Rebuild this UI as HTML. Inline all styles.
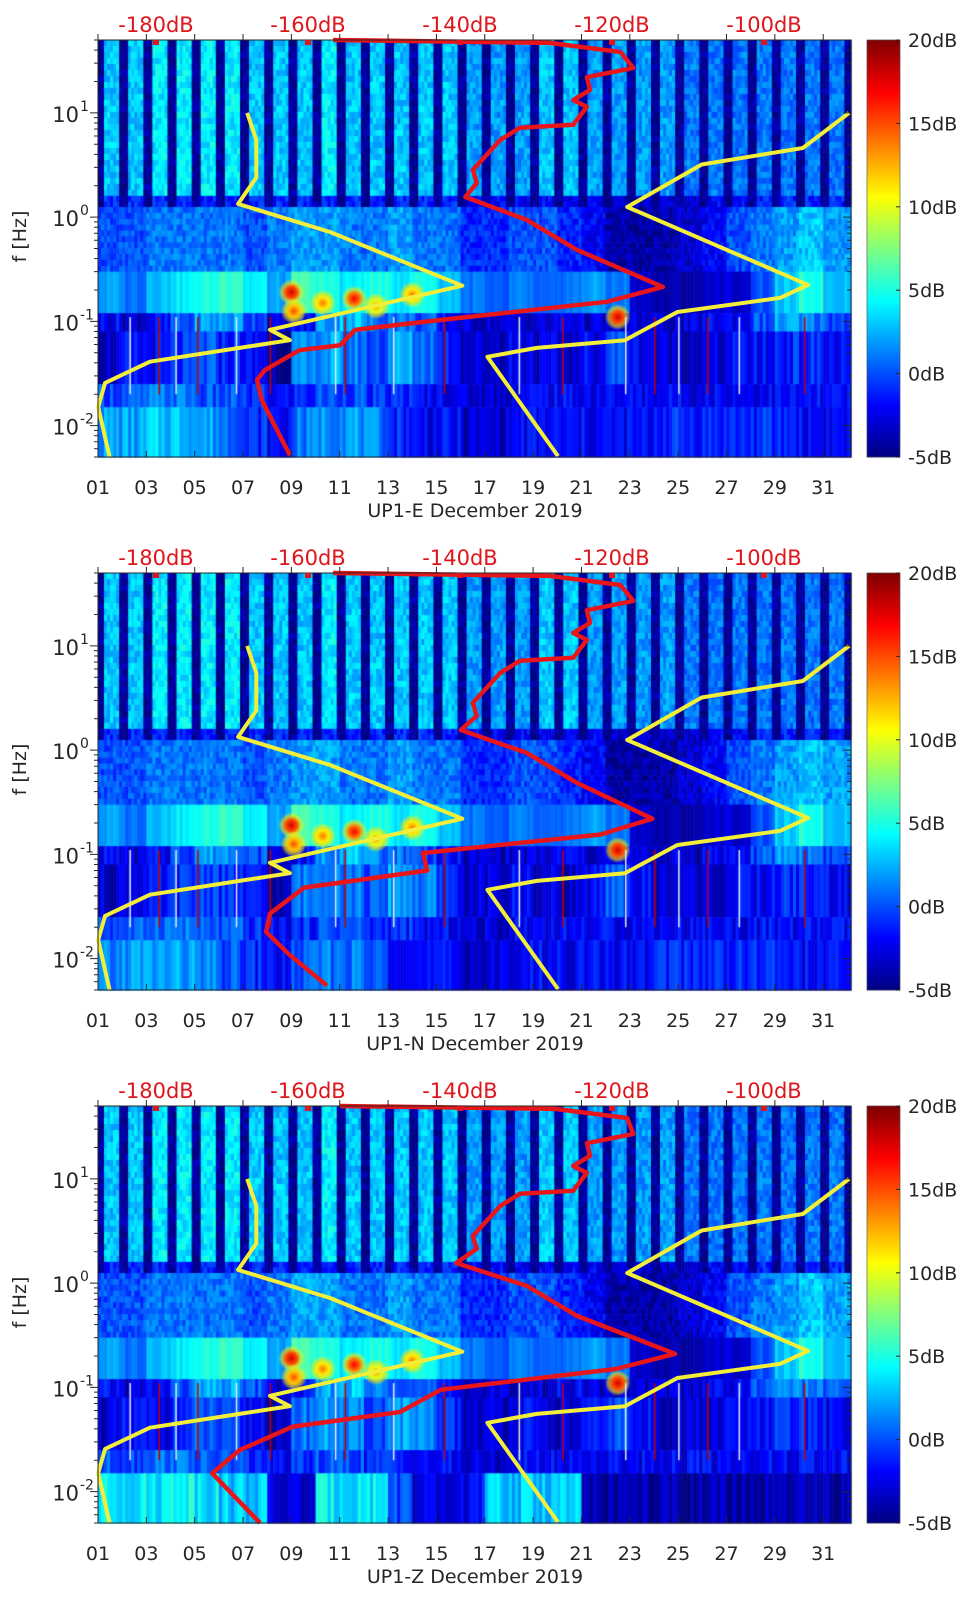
<!DOCTYPE html>
<html><head><meta charset="utf-8">
<style>
html,body{margin:0;padding:0;background:#fff;}
#wrap{position:relative;width:962px;height:1599px;overflow:hidden;}
canvas,svg{position:absolute;left:0;top:0;}
text{font-family:"DejaVu Sans","Liberation Sans",sans-serif;}
</style></head>
<body>
<div id="wrap">
<canvas id="cv" width="962" height="1599"></canvas>
<svg id="sv" width="962" height="1599" xmlns="http://www.w3.org/2000/svg"></svg>
</div>
<script>
// ---- data ----
const channelNames = ["UP1-E", "UP1-N", "UP1-Z"];
const dayTicks = ["01","03","05","07","09","11","13","15","17","19","21","23","25","27","29","31"];
const dbTicks = [-180,-160,-140,-120,-100];
const cbTicks = [20,15,10,5,0,-5];
const bandEdges = [50,1.6,1.25,0.3,0.12,0.08,0.025,0.015,0.005];
const stripeLevel = [3,3,4,4,4,4,3,3,3,4,3,3,3,3,3,2,2,2,3,3,2,2,2,2,1,1,1,1,1,1,1,1];
const darkRowLevel = [-1,-1,-1,-1,-1,-1,-1,-1,-1,-1,-1,-1,-1,-1,-1,-2,-2,-2,-2,-2,-2,-3,-3,-3,-3,-2,-2,-1,-1,-1,-1,-1];
const secLevel = [0,0,1,1,1,1,0,1,2,2,1,1,2,1,1,-1,-1,0,0,-1,-2,-4,-4,-4,-3,-2,0,1,2,3,2,2];
const microLevel = [2,1,3,4,5,6,4,2,6,5,4,5,4,5,3,1,0,1,0,1,2,1,-3,-4,-4,-3,-3,0,3,5,3,3];
const low1Level = [-2,-3,-2,0,2,2,0,-3,-2,2,3,1,1,0,-2,-3,-3,-3,-3,-2,-3,-3,-3,-3,-3,-2,-2,0,2,1,0,0];
const low2Level = [-3,-2,-2,-1,0,-1,-2,-4,1,2,1,0,2,1,-1,-3,-3,-2,-3,-3,-2,0,-2,-3,-3,-3,-2,-2,-1,-1,-2,-2];
const low25Level = [0,0,1,1,0,0,-1,-2,-1,0,0,-1,-1,-2,-2,-3,-3,-2,-2,-2,-2,-2,-2,-2,-2,-2,-2,-2,-2,-2,-2,-2];
const low3E = [2,2,3,3,2,1,-1,-2,1,2,2,1,-1,-2,-2,-3,-3,-2,-2,-2,-2,-2,-2,-1,-1,-1,-1,-1,-1,-2,-2,-2];
const low3N = [1,2,2,2,1,0,-1,-2,0,1,1,0,-1,-2,-2,-3,-3,-2,-2,-2,-2,-2,-2,-1,-1,-1,-1,-1,-1,-2,-2,-2];
const low3Z = [4,4,4,5,4,3,3,-3,-3,4,4,4,0,-3,-3,-2,3,3,3,3,-4,-4,-4,-4,-4,-4,-4,-4,-4,-4,-4,-4];
const hotDays = [9.0,9.1,10.3,11.6,12.5,14.0,22.5];
const hotFreqs = [0.19,0.125,0.15,0.165,0.14,0.18,0.11];
const hotVals = [18,15,14,17,13,14,18];
const spikeDays = [2.3,3.5,4.2,5.1,6.7,8.1,10.8,11.2,13.2,15.3,18.4,20.2,22.8,24.0,25.0,26.2,27.5,30.2];
const nlnmDb = [-168.0,-166.8,-166.8,-169.2,-157.1,-139.7,-165.0,-162.4,-169.0,-180.8,-186.7,-187.6,-186.1];
const nlnmF  = [10,5.5,2.4,1.34,0.72,0.22,0.083,0.066,0.0557,0.041,0.0257,0.0151,0.005];
const nhnmDb = [-88.8,-94.9,-108.2,-118.0,-94.2,-97.9,-111.4,-118.3,-129.9,-136.4,-127.1];
const nhnmF  = [10,4.6,3.2,1.25,0.224,0.168,0.123,0.066,0.0557,0.0457,0.0051];
const redDbE = [-156.7,-128.2,-118.9,-117.2,-123.3,-122.9,-125.1,-123.3,-125.1,-132.1,-134.7,-138.3,-137.8,-139.3,-131.2,-124.6,-113.3,-120.7,-142.6,-153.8,-155.8,-161.1,-165.7,-166.7,-166.1,-162.4];
const redFE  = [50,46.9,38.4,27,22,16.6,13.3,11.4,7.7,7.2,5.5,2.84,2.13,1.56,0.94,0.485,0.214,0.154,0.103,0.083,0.059,0.053,0.034,0.0275,0.0177,0.0052];
const redDbN = [-156.7,-128.2,-118.9,-117.2,-123.3,-122.9,-125.1,-123.3,-125.1,-132.1,-134.7,-138.3,-137.8,-139.9,-131.2,-124.6,-114.7,-121.5,-144.9,-144.3,-160.5,-165.0,-165.5,-162.5,-157.5];
const redFN  = [50,46.9,38.4,27,22,16.6,13.3,11.4,7.7,7.2,5.5,2.84,2.13,1.56,0.94,0.485,0.22,0.155,0.103,0.07,0.048,0.027,0.018,0.011,0.0055];
const redDbZ = [-155.8,-127.5,-118.0,-117.2,-123.3,-122.9,-125.1,-123.3,-125.1,-132.1,-134.7,-138.3,-137.8,-140.5,-131.2,-124.6,-111.7,-119.5,-142.5,-147.9,-162.0,-169.0,-172.6,-166.3];
const redFZ  = [50,46.9,38.4,27,22,16.6,13.3,11.4,7.7,7.2,5.5,2.84,2.13,1.56,0.94,0.485,0.21,0.15,0.095,0.058,0.042,0.025,0.015,0.005];

// ---- layout ----
const L=98, R=851, PH=417, DMIN=1, DMAX=32.15, LOGTOP=Math.log10(50), DEC=104.25;
const panelTops=[40,573,1106];
const low3Sets=[low3E,low3N,low3Z];
const redDbSets=[redDbE,redDbN,redDbZ], redFSets=[redFE,redFN,redFZ];
function xDay(d){return L+(d-DMIN)/(DMAX-DMIN)*(R-L);}
function yF(f,top){return top+(LOGTOP-Math.log10(f))*DEC;}
function xDb(v){return 156+(v+180)*7.6;}
function jet(v){let t=(v+5)/25;t=Math.max(0,Math.min(1,t));
 const c=x=>Math.round(255*Math.max(0,Math.min(1,1.5-Math.abs(x))));
 return [c(4*t-3),c(4*t-2),c(4*t-1)];}
function rgb(a){return "rgb("+a[0]+","+a[1]+","+a[2]+")";}
function tex(i,j){const s=Math.sin(i*12.9898+j*78.233)*43758.5453;return s-Math.floor(s)-0.5;}

const cv=document.getElementById('cv'), ctx=cv.getContext('2d');
const sv=document.getElementById('sv'), NS="http://www.w3.org/2000/svg";
function mk(tag,attrs,parent){const e=document.createElementNS(NS,tag);for(const k in attrs)e.setAttribute(k,attrs[k]);(parent||sv).appendChild(e);return e;}

panelTops.forEach((top,p)=>{
 const bandLevels=[stripeLevel,darkRowLevel,secLevel,microLevel,low1Level,low2Level,low25Level,low3Sets[p]];
 const step=0.125;
 let ci=0;
 for(let d=DMIN; d<DMAX; d+=step, ci++){
  const di=Math.min(31,Math.floor(d)-1);
  const frac=d-Math.floor(d);
  const isDark=(frac<0.2||frac>0.82);
  const x0=xDay(d), x1=xDay(Math.min(DMAX,d+step));
  for(let b=0;b<bandLevels.length;b++){
   const y0=yF(bandEdges[b],top), y1=yF(bandEdges[b+1],top);
   if(b<=2){
    // sub-rows for texture
    const n=Math.max(1,Math.round((y1-y0)/6));
    for(let k=0;k<n;k++){
     let v=bandLevels[b][di];
     if(b<=1 && isDark) v=-4.5;
     v+=tex(ci+p*7,k+b*40)*2.5;
     ctx.fillStyle=rgb(jet(v));
     const ya=y0+(y1-y0)*k/n, yb=y0+(y1-y0)*(k+1)/n;
     ctx.fillRect(x0,ya,x1-x0+0.6,yb-ya+0.6);
    }
   } else {
    let v=bandLevels[b][di]+(b>=4?tex(ci,b+p*3)*3:tex(ci,b)*1.5);
    ctx.fillStyle=rgb(jet(v));
    ctx.fillRect(x0,y0,x1-x0+0.6,y1-y0+0.6);
   }
  }
 }
 // hot spots
 hotDays.forEach((d,i)=>{
  const cx=xDay(d), cy=yF(hotFreqs[i],top);
  const g=ctx.createRadialGradient(cx,cy,0,cx,cy,13);
  g.addColorStop(0,rgb(jet(hotVals[i])));g.addColorStop(0.45,rgb(jet(hotVals[i]-3)));g.addColorStop(0.75,"rgba(255,230,0,0.6)");g.addColorStop(1,"rgba(255,255,0,0)");
  ctx.fillStyle=g;ctx.fillRect(cx-13,cy-13,26,26);
 });
 // spikes
 spikeDays.forEach((d,i)=>{
  ctx.fillStyle=i%2?"#c00000":"#d8f0ff";
  ctx.fillRect(xDay(d),yF(0.11,top),1.5,yF(0.02,top)-yF(0.11,top));
 });

 const g=mk('g',{});
 
 
 function line(dbs,fs,color,name,w){
  const pts=dbs.map((v,i)=>xDb(v).toFixed(1)+","+yF(fs[i],top).toFixed(1)).join(" ");
  const pl=mk('polyline',{points:pts,fill:"none",stroke:color,"stroke-width":w,"stroke-linejoin":"round"},g);
  
  
 }
 line(nlnmDb,nlnmF,"#f2ee3a","nlnm-line",4);
 line(nhnmDb,nhnmF,"#f2ee3a","nhnm-line",4);
 line(redDbSets[p],redFSets[p],"#e8161b","noise-psd-line",4.5);
 const fr=mk('rect',{x:L,y:top,width:R-L,height:PH,fill:"none",stroke:"#262626","stroke-width":1},g);
 
 
 dayTicks.forEach((t,i)=>{
  const x=xDay(1+2*i);
  mk('line',{x1:x,x2:x,y1:top+PH,y2:top+PH-6,stroke:"#262626"},g);
  mk('line',{x1:x,x2:x,y1:top,y2:top-6,stroke:"#262626"},g);
  const tx=mk('text',{x:x,y:top+PH+37,"font-size":19,"text-anchor":"middle",fill:"#262626"},g);
  tx.textContent=t;
  
  
 });
 dbTicks.forEach(v=>{
  const tx=mk('text',{x:xDb(v),y:top-8,"font-size":21,"text-anchor":"middle",fill:"#e0141a"},g);
  tx.textContent=v+"dB";
  
  
  mk('rect',{x:xDb(v)-3,y:top,width:6,height:5,fill:"#e0141a"},g);
 });
 for(let e=-3;e<=1;e++){
  for(let m=1;m<10;m++){
   const f=m*Math.pow(10,e); if(f<0.005||f>50) continue;
   const y=yF(f,top), len=m===1?8:4;
   mk('line',{x1:L,x2:L-len,y1:y,y2:y,stroke:"#262626"},g);
   mk('line',{x1:R,x2:R-len,y1:y,y2:y,stroke:"#262626"},g);
  }
  if(e>=-2){
   const y=yF(Math.pow(10,e),top);
   const tx=mk('text',{x:79,y:y+9,"font-size":21,"text-anchor":"end",fill:"#262626"},g);
   
   
   tx.textContent="10";
   const sp=mk('text',{x:80,y:y-2,"font-size":14,fill:"#262626"},g);
   sp.textContent=String(e);
  }
 }
 const yl=mk('text',{x:0,y:0,"font-size":19,"text-anchor":"middle",fill:"#262626",transform:"translate(26,"+(top+PH/2-12)+") rotate(-90)"},g);
 yl.textContent="f [Hz]";
 
 
 const xt=mk('text',{x:475,y:top+PH+60,"font-size":19,"text-anchor":"middle",fill:"#262626"},g);
 xt.textContent=channelNames[p]+" December 2019";
 
 
 for(let i=0;i<PH;i++){
  ctx.fillStyle=rgb(jet(20-25*i/PH));
  ctx.fillRect(867,top+i,33,1.2);
 }
 const cbf=mk('rect',{x:867,y:top,width:33,height:PH,fill:"none",stroke:"#262626","stroke-width":0.5},g);
 
 
 cbTicks.forEach((v,i)=>{
  const y=top+i*PH/5;
  mk('line',{x1:900,x2:896,y1:y,y2:y,stroke:"#262626"},g);
  const tx=mk('text',{x:908,y:y+7,"font-size":19,fill:"#262626"},g);
  tx.textContent=v+"dB";
  
  
 });
});
</script>
</body></html>
